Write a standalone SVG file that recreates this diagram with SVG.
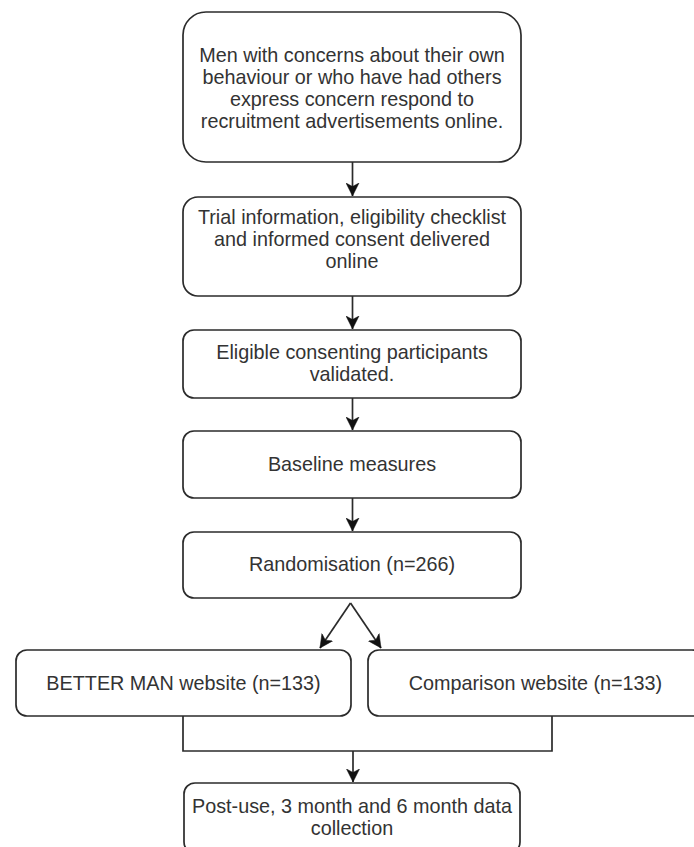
<svg xmlns="http://www.w3.org/2000/svg" width="694" height="847" viewBox="0 0 694 847">
<style>
.box{fill:#fff;stroke:#2b2b2b;stroke-width:1.7}
.t{font-family:"Liberation Sans",Arial,Helvetica,sans-serif;font-size:19.8px;fill:#333;text-anchor:middle}
.c{fill:none;stroke:#2b2b2b;stroke-width:1.7}
</style>
<defs>
<marker id="ah" markerUnits="userSpaceOnUse" markerWidth="14" markerHeight="14" viewBox="0 0 14 14" refX="13" refY="7" orient="auto">
<path d="M0,0.5 L13,7 L0,13.5 L3.5,7 z" fill="#111" stroke="#111" stroke-width="0.5"/>
</marker>
</defs>
<rect width="694" height="847" fill="#fff"/>
<g id="n1">
<rect class="box" x="183" y="12" width="338" height="150" rx="23"/>
<text class="t"><tspan x="352" y="61.5">Men with concerns about their own</tspan><tspan x="352" y="83.5">behaviour or who have had others</tspan><tspan x="352" y="105.5">express concern respond to</tspan><tspan x="352" y="127.5">recruitment advertisements online.</tspan></text>
</g>
<g id="n2">
<rect class="box" x="183" y="197" width="338" height="99" rx="15"/>
<text class="t"><tspan x="352" y="223.5">Trial information, eligibility checklist</tspan><tspan x="352" y="245.5">and informed consent delivered</tspan><tspan x="352" y="267.5">online</tspan></text>
</g>
<g id="n3">
<rect class="box" x="183" y="330" width="338" height="68" rx="11"/>
<text class="t"><tspan x="352" y="358.5">Eligible consenting participants</tspan><tspan x="352" y="380.5">validated.</tspan></text>
</g>
<g id="n4">
<rect class="box" x="183" y="431" width="338" height="67" rx="11"/>
<text class="t" x="352" y="470.5">Baseline measures</text>
</g>
<g id="n5">
<rect class="box" x="183" y="532" width="338" height="66" rx="11"/>
<text class="t" x="352" y="570.5">Randomisation (n=266)</text>
</g>
<g id="n6">
<rect class="box" x="16" y="650" width="335" height="66" rx="11"/>
<text class="t" x="183.5" y="689.5">BETTER MAN website (n=133)</text>
</g>
<g id="n7">
<rect class="box" x="368" y="650" width="335" height="66" rx="11"/>
<text class="t" x="535.5" y="689.5">Comparison website (n=133)</text>
</g>
<g id="n8">
<rect class="box" x="184" y="783" width="336" height="70" rx="11"/>
<text class="t"><tspan x="352" y="812.5">Post-use, 3 month and 6 month data</tspan><tspan x="352" y="834.5">collection</tspan></text>
</g>
<g id="connectors">
<path class="c" d="M352.5,162 V196" marker-end="url(#ah)"/>
<path class="c" d="M352.5,296 V329" marker-end="url(#ah)"/>
<path class="c" d="M352.5,398 V430" marker-end="url(#ah)"/>
<path class="c" d="M352.5,498 V531" marker-end="url(#ah)"/>
<path class="c" d="M350.5,603 L320,648" marker-end="url(#ah)"/>
<path class="c" d="M350.5,603 L381,648" marker-end="url(#ah)"/>
<path class="c" d="M183,716 V751 H552 V716"/>
<path class="c" d="M353,751 V782" marker-end="url(#ah)"/>
</g>
</svg>
